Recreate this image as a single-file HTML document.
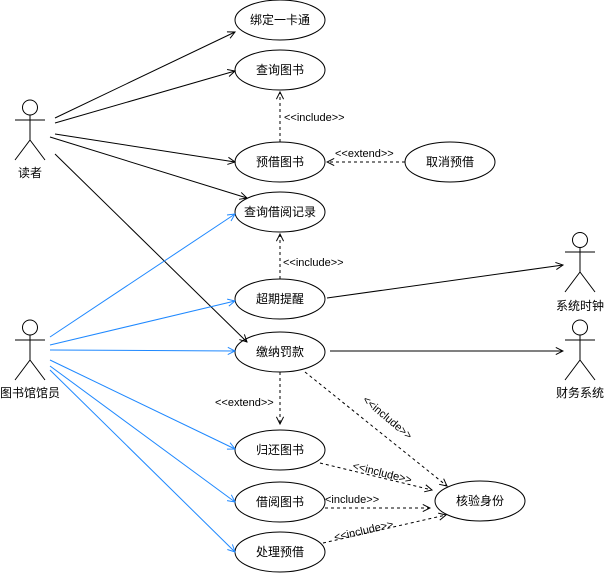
<!DOCTYPE html>
<html><head><meta charset="utf-8"><style>
html,body{margin:0;padding:0;background:#fff;}
svg{display:block;font-family:"Liberation Sans","Noto Sans CJK SC",sans-serif;}
</style></head><body>
<svg width="604" height="573" viewBox="0 0 604 573" xmlns="http://www.w3.org/2000/svg">
<defs>
<marker id="a" viewBox="0 0 10 10" refX="9" refY="5" markerWidth="9" markerHeight="9" orient="auto" markerUnits="userSpaceOnUse"><path d="M1,1 L9,5 L1,9" fill="none" stroke="#000" stroke-width="1.1"/></marker>
<marker id="b" viewBox="0 0 10 10" refX="9" refY="5" markerWidth="9" markerHeight="9" orient="auto" markerUnits="userSpaceOnUse"><path d="M1,1 L9,5 L1,9" fill="none" stroke="#1e88ff" stroke-width="1.1"/></marker>
</defs>
<g fill="none" stroke="#000" stroke-width="1">
<!-- reader -->
<circle cx="30" cy="107.5" r="7.5"/><path d="M15,120H45M30,115V140L15,160M30,140L45,160"/>
<circle cx="30" cy="327.5" r="7.5"/><path d="M15,340H45M30,335V360L15,380M30,360L45,380"/>
<circle cx="580" cy="240" r="7.5"/><path d="M565,252H595M580,247.5V272L565,292M580,272L595,292"/>
<circle cx="580" cy="327.5" r="7.5"/><path d="M565,340H595M580,335V360L565,380M580,360L595,380"/>
</g>
<g fill="#fff" stroke="#000" stroke-width="1">
<ellipse cx="280" cy="20" rx="45" ry="20"/>
<ellipse cx="280" cy="70" rx="45" ry="20"/>
<ellipse cx="280" cy="162" rx="45" ry="20"/>
<ellipse cx="280" cy="212" rx="45" ry="20"/>
<ellipse cx="280" cy="299" rx="45" ry="20"/>
<ellipse cx="280" cy="352" rx="45" ry="20"/>
<ellipse cx="280" cy="450" rx="45" ry="20"/>
<ellipse cx="280" cy="502" rx="45" ry="20"/>
<ellipse cx="280" cy="552" rx="45" ry="20"/>
<ellipse cx="450" cy="162" rx="45" ry="20"/>
<ellipse cx="480" cy="501" rx="45" ry="20"/>
</g>
<g stroke="#000" stroke-width="1" fill="none" marker-end="url(#a)">
<line x1="55" y1="118" x2="235" y2="32"/>
<line x1="55" y1="123" x2="235" y2="71"/>
<line x1="55" y1="134" x2="235" y2="162"/>
<line x1="50" y1="137" x2="247" y2="198"/>
<line x1="55" y1="154" x2="247" y2="342"/>
<line x1="327" y1="298" x2="563" y2="265"/>
<line x1="330" y1="351" x2="563" y2="351"/>
</g>
<g stroke="#1e88ff" stroke-width="1" fill="none" marker-end="url(#b)">
<line x1="50" y1="337" x2="235" y2="214"/>
<line x1="50" y1="345" x2="235" y2="301"/>
<line x1="50" y1="350" x2="235" y2="351"/>
<line x1="50" y1="360" x2="235" y2="449"/>
<line x1="50" y1="366" x2="235" y2="502"/>
<line x1="50" y1="370" x2="235" y2="552"/>
</g>
<g stroke="#000" stroke-width="1" fill="none" stroke-dasharray="3,3" marker-end="url(#a)">
<line x1="280" y1="142" x2="280" y2="92"/>
<line x1="405" y1="162" x2="327" y2="162"/>
<line x1="280" y1="279" x2="280" y2="234"/>
<line x1="280" y1="372" x2="280" y2="424"/>
<line x1="305" y1="372" x2="447" y2="486"/>
<line x1="320" y1="463" x2="432" y2="490"/>
<line x1="325" y1="508" x2="430" y2="508"/>
<line x1="323" y1="543" x2="446" y2="515"/>
</g>
<g font-size="12" text-anchor="middle" fill="#000">
<text x="280" y="24">绑定一卡通</text>
<text x="280" y="74">查询图书</text>
<text x="280" y="166">预借图书</text>
<text x="280" y="216">查询借阅记录</text>
<text x="280" y="303">超期提醒</text>
<text x="280" y="356">缴纳罚款</text>
<text x="280" y="454">归还图书</text>
<text x="280" y="506">借阅图书</text>
<text x="280" y="556">处理预借</text>
<text x="450" y="166">取消预借</text>
<text x="480" y="505">核验身份</text>
<text x="30" y="177">读者</text>
<text x="30" y="397">图书馆馆员</text>
<text x="580" y="310">系统时钟</text>
<text x="580" y="397">财务系统</text>
</g>
<g font-size="11" fill="#000">
<text x="284" y="121">&lt;&lt;include&gt;&gt;</text>
<text x="335" y="157">&lt;&lt;extend&gt;&gt;</text>
<text x="283" y="266">&lt;&lt;include&gt;&gt;</text>
<text x="215" y="406">&lt;&lt;extend&gt;&gt;</text>
<text x="325" y="503">&lt;include&gt;&gt;</text>
<text transform="translate(362,401) rotate(40)">&lt;&lt;include&gt;&gt;</text>
<text transform="translate(352,469) rotate(14)">&lt;&lt;include&gt;&gt;</text>
<text transform="translate(335,541) rotate(-13)">&lt;&lt;include&gt;&gt;</text>
</g>
</svg>
</body></html>
